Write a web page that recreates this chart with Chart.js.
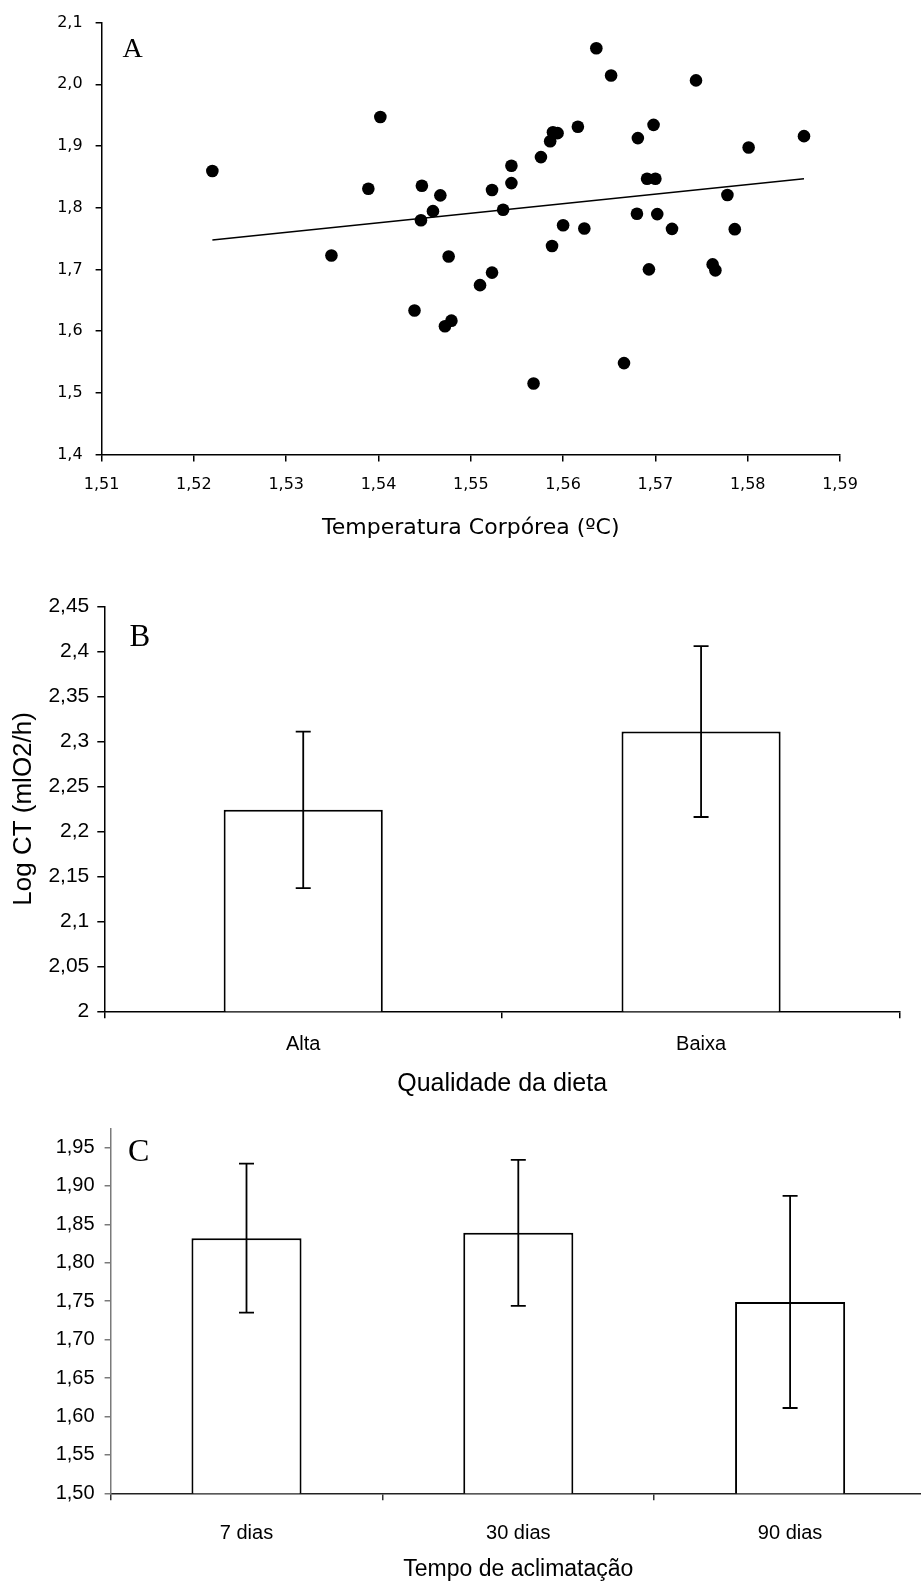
<!DOCTYPE html>
<html><head><meta charset="utf-8">
<script src="https://cdn.jsdelivr.net/npm/chart.js@4.4.1/dist/chart.umd.min.js"></script>
<style>
html,body{margin:0;padding:0;background:#fff;overflow:hidden;width:921px;height:1583px;}
canvas{position:absolute;left:0;}
</style></head><body>
<canvas id="cA" width="921" height="560" style="top:0;width:921px;height:560px"></canvas>
<canvas id="cB" width="921" height="545" style="top:560px;width:921px;height:545px"></canvas>
<canvas id="cC" width="930" height="478" style="top:1105px;width:930px;height:478px"></canvas>
<script>
// ---------- Panel A: scatter ----------
const A_X = [1.5220,1.5349,1.5389,1.5402,1.5439,1.5446,1.5447,1.5459,1.5467,1.5472,1.5476,1.5479,1.5510,1.5523,1.5523,1.5535,1.5544,1.5544,1.5568,1.5576,1.5586,1.5588,1.5589,1.5594,1.5600,1.5616,1.5623,1.5636,1.5652,1.5666,1.5680,1.5681,1.5691,1.5693,1.5698,1.5700,1.5702,1.5718,1.5744,1.5762,1.5765,1.5778,1.5786,1.5801,1.5861];
const A_Y = [1.8596,1.7225,1.8308,1.9471,1.6335,1.7796,1.8356,1.7944,1.8200,1.6079,1.7209,1.6169,1.6745,1.6948,1.8287,1.7967,1.8680,1.8399,1.5151,1.8820,1.9076,1.7380,1.9224,1.9208,1.7716,1.9311,1.7663,2.0584,2.0143,1.5481,1.7903,1.9128,1.8468,1.7001,1.9343,1.8468,1.7896,1.7657,2.0063,1.7081,1.6985,1.8207,1.7652,1.8975,1.9160];
const A_TREND_X = [1.5220, 1.5861];
const A_TREND_Y = [1.7476, 1.8468];
const A_XTICKS = [1.51,1.52,1.53,1.54,1.55,1.56,1.57,1.58,1.59];
const A_YTICKS = [1.4,1.5,1.6,1.7,1.8,1.9,2.0,2.1];
const A_XTITLE = 'Temperatura Corpórea (ºC)';

// ---------- Panel B: bars ----------
const B_CATS = ['Alta','Baixa'];
const B_MEAN = [2.224, 2.311];
const B_ERR = [0.087, 0.095];
const B_YTICKS = [2,2.05,2.1,2.15,2.2,2.25,2.3,2.35,2.4,2.45];
const B_XTITLE = 'Qualidade da dieta';
const B_YTITLE = 'Log CT (mlO2/h)';

// ---------- Panel C: bars ----------
const C_CATS = ['7 dias','30 dias','90 dias'];
const C_MEAN = [1.832, 1.839, 1.749];
const C_ERR = [0.097, 0.095, 0.138];
const C_YTICKS = [1.50,1.55,1.60,1.65,1.70,1.75,1.80,1.85,1.90,1.95];
const C_XTITLE = 'Tempo de aclimatação';

const SANS = '"Liberation Sans", Arial, sans-serif';
const DEJ = '"DejaVu Sans", sans-serif';
Chart.defaults.color = '#000';
Chart.defaults.font.family = SANS;

function letterPlugin(txt, size, x, y){
  return {id:'letter', afterDraw(chart){
    const c = chart.ctx; c.save();
    c.font = size + 'px "Liberation Serif", "Times New Roman", serif';
    c.fillStyle = '#000'; c.textBaseline = 'alphabetic'; c.textAlign = 'left';
    c.fillText(txt, x, y); c.restore();
  }};
}
function errorBarPlugin(errs){
  return {id:'errbars', afterDatasetsDraw(chart){
    const meta = chart.getDatasetMeta(0); const ys = chart.scales.y;
    const vals = chart.data.datasets[0].data; const c = chart.ctx;
    c.save(); c.strokeStyle = '#000'; c.lineWidth = 1.8;
    meta.data.forEach((bar, i) => {
      const x = bar.x;
      const t = ys.getPixelForValue(vals[i] + errs[i]);
      const b = ys.getPixelForValue(vals[i] - errs[i]);
      c.beginPath();
      c.moveTo(x, t); c.lineTo(x, b);
      c.moveTo(x - 7.5, t); c.lineTo(x + 7.5, t);
      c.moveTo(x - 7.5, b); c.lineTo(x + 7.5, b);
      c.stroke();
    });
    c.restore();
  }};
}
const setTicks = arr => s => { s.ticks = arr.map(v => ({value: v})); };

// Panel A
new Chart(document.getElementById('cA'), {
  type: 'scatter',
  data: { datasets: [
    { data: A_X.map((x,i)=>({x, y:A_Y[i]})), pointRadius: 6.3, pointBackgroundColor:'#000', pointBorderWidth:0, pointHoverRadius:6.3 },
    { type:'line', data: A_TREND_X.map((x,i)=>({x, y:A_TREND_Y[i]})), borderColor:'#000', borderWidth:1.5, pointRadius:0, fill:false }
  ]},
  options: {
    responsive:false, animation:false, devicePixelRatio:1,
    layout:{padding:{top:16.7, right:81, bottom:0, left:0}},
    plugins:{legend:{display:false}, tooltip:{enabled:false}},
    scales:{
      x:{type:'linear', min:1.51, max:1.59, afterBuildTicks:setTicks(A_XTICKS), afterFit:s=>{s.height=105.5;},
        border:{color:'#000', width:1.5},
        grid:{drawOnChartArea:false, drawTicks:true, tickLength:7, color:'#000', lineWidth:1.5},
        ticks:{autoSkip:false, maxRotation:0, padding:14, font:{family:DEJ, size:16}, color:'#000', callback:v=>v.toFixed(2).replace('.',',')},
        title:{display:true, text:A_XTITLE, font:{family:DEJ, size:22}, color:'#000', padding:{top:0, bottom:19}}},
      y:{type:'linear', min:1.4, max:2.1, afterBuildTicks:setTicks(A_YTICKS), afterFit:s=>{s.width=101.6;},
        border:{color:'#000', width:1.5},
        grid:{drawOnChartArea:false, drawTicks:true, tickLength:6, color:'#000', lineWidth:1.5},
        ticks:{autoSkip:false, padding:13, font:{family:DEJ, size:16}, color:'#000', callback:v=>v.toFixed(1).replace('.',',')}}
    }
  },
  plugins:[letterPlugin('A', 28, 122.5, 57.3)]
});

// Panel B
new Chart(document.getElementById('cB'), {
  type: 'bar',
  data: { labels: B_CATS, datasets: [{ data: B_MEAN, backgroundColor:'#fff', borderColor:'#000', borderWidth:2, borderSkipped:false, barPercentage:1, categoryPercentage:0.4 }]},
  options: {
    responsive:false, animation:false, devicePixelRatio:1,
    layout:{padding:{top:46.5, right:21, bottom:0, left:0}},
    plugins:{legend:{display:false}, tooltip:{enabled:false}},
    scales:{
      x:{type:'category', offset:true, afterFit:s=>{s.height=93.7;},
        border:{color:'#000', width:1.5},
        grid:{offset:true, drawOnChartArea:false, drawTicks:true, tickLength:7, color:'#000', lineWidth:1.5},
        ticks:{autoSkip:false, maxRotation:0, padding:14, font:{family:SANS, size:20}, color:'#000'},
        title:{display:true, text:B_XTITLE, font:{family:SANS, size:25}, color:'#000', padding:{top:0, bottom:6}}},
      y:{type:'linear', min:2, max:2.45, afterBuildTicks:setTicks(B_YTICKS), afterFit:s=>{s.width=104.3;},
        border:{color:'#000', width:1.5},
        grid:{drawOnChartArea:false, drawTicks:true, tickLength:7, color:'#000', lineWidth:1.5},
        ticks:{autoSkip:false, padding:8, font:{family:SANS, size:21}, color:'#000', callback:v=>String(Math.round(v*100)/100).replace('.',',')},
        title:{display:true, text:B_YTITLE, font:{family:SANS, size:26}, color:'#000', padding:{top:8, bottom:0}}}
    }
  },
  plugins:[errorBarPlugin(B_ERR), letterPlugin('B', 31, 129.5, 85.7)]
});

// Panel C
new Chart(document.getElementById('cC'), {
  type: 'bar',
  data: { labels: C_CATS, datasets: [{ data: C_MEAN, backgroundColor:'#fff', borderColor:'#000', borderWidth:2, borderSkipped:false, barPercentage:1, categoryPercentage:0.405 }]},
  options: {
    responsive:false, animation:false, devicePixelRatio:1,
    layout:{padding:{top:23.3, right:4, bottom:0, left:0}},
    plugins:{legend:{display:false}, tooltip:{enabled:false}},
    scales:{
      x:{type:'category', offset:true, afterFit:s=>{s.height=89.7;},
        border:{color:'#222', width:1.5},
        grid:{offset:true, drawOnChartArea:false, drawTicks:true, tickLength:7, color:'#333', lineWidth:1.5},
        ticks:{autoSkip:false, maxRotation:0, padding:21, font:{family:SANS, size:20}, color:'#000'},
        title:{display:true, text:C_XTITLE, font:{family:SANS, size:23}, color:'#000', padding:{top:0, bottom:0}}},
      y:{type:'linear', min:1.5, max:1.975, afterBuildTicks:setTicks(C_YTICKS), afterFit:s=>{s.width=110.6;},
        border:{color:'#7a7a7a', width:1.5},
        grid:{drawOnChartArea:false, drawTicks:true, tickLength:6, color:'#7a7a7a', lineWidth:1.5},
        ticks:{autoSkip:false, padding:10, font:{family:SANS, size:20}, color:'#000', callback:v=>v.toFixed(2).replace('.',',')}}
    }
  },
  plugins:[errorBarPlugin(C_ERR), letterPlugin('C', 32, 128, 55.7)]
});
</script>
</body></html>
